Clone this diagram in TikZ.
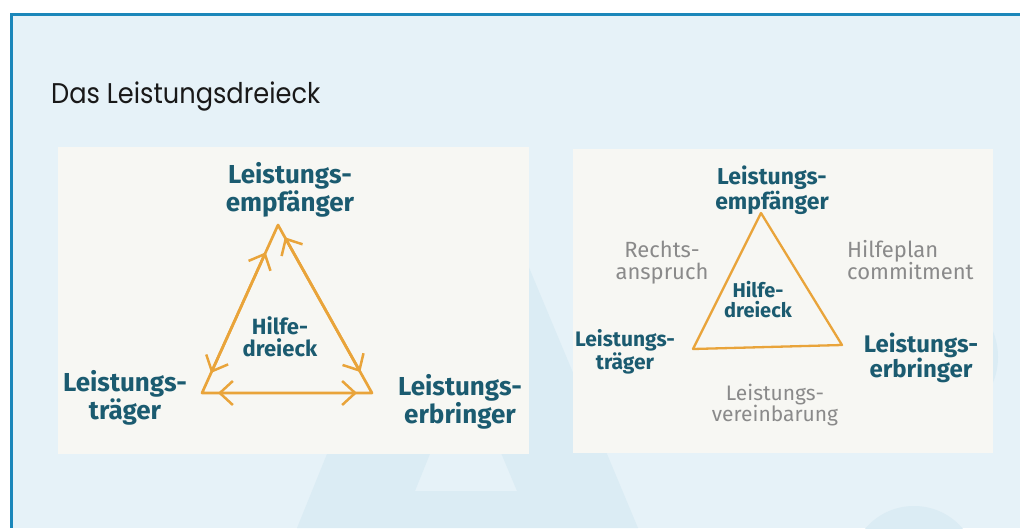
\documentclass[tikz,border=0pt]{standalone}
\usepackage{fontspec}
\setmainfont{Poppins}
\newfontfamily\titlefont[FakeStretch=0.9]{Poppins}
\newfontfamily\handfont{Fira Sans}
\usetikzlibrary{arrows.meta}
\definecolor{panel}{HTML}{E6F2F8}
\definecolor{wmark}{HTML}{DBECF4}
\definecolor{bord}{HTML}{1B87BA}
\definecolor{paper}{HTML}{F7F7F3}
\definecolor{handteal}{HTML}{1B5B70}
\definecolor{handorange}{HTML}{E9A43A}
\definecolor{handgray}{HTML}{8A8A8A}
\tikzset{
  tealtext/.style={font=\handfont\bfseries\fontsize{#1}{#1}\selectfont, text=handteal, align=center, inner sep=0pt},
  graytext/.style={font=\handfont\fontsize{#1}{#1}\selectfont, text=handgray, align=center, inner sep=0pt},
  triline/.style={draw=handorange, line width=2.7pt, line join=round, line cap=round},
  barb/.tip={Straight Barb[length=13pt,width=24pt,line width=2.5pt]},
  biarrow/.style={draw=handorange, line width=2.7pt, line cap=round, barb-barb}
}
\begin{document}
\begin{tikzpicture}[x=1pt,y=-1pt]
\useasboundingbox (0,0) rectangle (1020,528);
\fill[white] (0,0) rectangle (1020,528);
\fill[panel] (10,13) rectangle (1020,528);
% watermark
\fill[wmark, even odd rule] (297,528) -- (446,160) -- (484,160) -- (638,528) -- cycle
  (415,491) -- (465,367) -- (517,491) -- cycle;
\fill[wmark] (914,570) circle (64);
\fill[wmark] (930,357) circle (68);
% border
\fill[bord] (10,13) rectangle (1020,16);
\fill[bord] (10,13) rectangle (13,528);
% title
\node[anchor=base west, inner sep=0pt, font=\titlefont\fontsize{28.5}{30}\selectfont, text=black!90] (title) at (51,103) {Das Leistungsdreieck};
% pictures
\fill[paper] (58,147) rectangle (529,454);
\fill[paper] (573,149) rectangle (993,453);

% ---- left picture
\coordinate (A1) at (278,225);
\coordinate (L1) at (202,393);
\coordinate (R1) at (372,393);
\draw[triline] (A1) -- (L1) -- (R1) -- cycle;
\draw[biarrow, shorten <=22pt, shorten >=30pt] (L1) -- (A1);
\draw[biarrow, shorten <=14pt, shorten >=24pt] (A1) -- (R1);
\draw[biarrow, shorten <=16pt, shorten >=15pt] (L1) -- (R1);
\node[tealtext=26] (E1) at (290,190) {Leistungs-\\empfänger};
\node[tealtext=22] (H1) at (280,337) {Hilfe-\\dreieck};
\node[tealtext=26] (T1) at (125,398) {Leistungs-\\träger};
\node[tealtext=26] (B1) at (460,402) {Leistungs-\\erbringer};

% ---- right picture
\coordinate (A2) at (761,213);
\coordinate (L2) at (693,349);
\coordinate (R2) at (842,345);
\draw[triline, line width=2.3pt] (A2) -- (L2) -- (R2) -- cycle;
\node[tealtext=23] (E2) at (772,190) {Leistungs-\\empfänger};
\node[tealtext=20] (H2) at (758,300) {Hilfe-\\dreieck};
\node[tealtext=21] (T2) at (625,352) {Leistungs-\\träger};
\node[tealtext=24] (B2) at (921,358) {Leistungs-\\erbringer};
\node[graytext=22] (R) at (662,263) {Rechts-\\anspruch};
\node[graytext=22, anchor=west, align=left] (P) at (847,260) {Hilfeplan\\commitment};
\node[graytext=21] (V) at (775,405) {Leistungs-\\vereinbarung};
\end{tikzpicture}
\end{document}
